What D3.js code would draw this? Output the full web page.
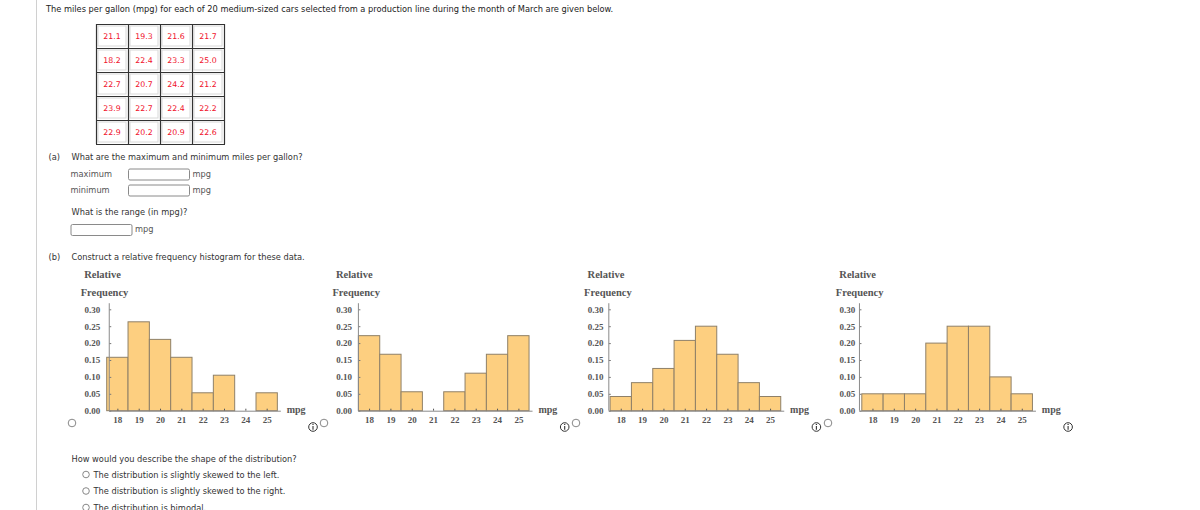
<!DOCTYPE html>
<html>
<head>
<meta charset="utf-8">
<script src="https://cdn.jsdelivr.net/npm/d3@7"></script>
<style>
  body { margin: 0; background: #fff; }
  svg text { font-family: "DejaVu Sans", Verdana, sans-serif; }
  .plot text { font-family: "Liberation Serif", "DejaVu Serif", serif; }
</style>
</head>
<body>
<div id="chart"></div>
<script>
// mpg values shown in the table (5 rows x 4 columns)
const mpgRows = [
  [21.1, 19.3, 21.6, 21.7],
  [18.2, 22.4, 23.3, 25.0],
  [22.7, 20.7, 24.2, 21.2],
  [23.9, 22.7, 22.4, 22.2],
  [22.9, 20.2, 20.9, 22.6]
];

// histogram bins (mpg) and the relative frequencies of the four choices
const bins = [18, 19, 20, 21, 22, 23, 24, 25];
const histA = [0.158, 0.263, 0.211, 0.158, 0.053, 0.105, 0, 0.053];
const histB = [0.222, 0.167, 0.056, 0, 0.056, 0.111, 0.167, 0.222];
const histC = [0.042, 0.083, 0.125, 0.208, 0.25, 0.167, 0.083, 0.042];
const histD = [0.05, 0.05, 0.05, 0.20, 0.25, 0.25, 0.10, 0.05];
const histograms = [histA, histB, histC, histD];

// where each plot's vertical axis crosses the mpg axis
const axisCross = [17.62, 17.5, 17.44, 17.39];

const yTicks = [0, 0.05, 0.10, 0.15, 0.20, 0.25, 0.30];

const introText = "The miles per gallon (mpg) for each of 20 medium-sized cars selected from a production line during the month of March are given below.";
const shapeQuestion = "How would you describe the shape of the distribution?";
const shapeChoices = [
  "The distribution is slightly skewed to the left.",
  "The distribution is slightly skewed to the right.",
  "The distribution is bimodal."
];

const svg = d3.select("#chart").append("svg")
  .attr("width", 1200)
  .attr("height", 510);

svg.append("rect").attr("width", 1200).attr("height", 510).attr("fill", "#fff");

// left page rule
svg.append("line")
  .attr("x1", 36.5).attr("x2", 36.5)
  .attr("y1", 0).attr("y2", 510)
  .attr("stroke", "#d0d0d0");

const textSize = "8.25px";

svg.append("text")
  .attr("x", 46).attr("y", 11.5)
  .attr("font-size", textSize)
  .attr("fill", "#222")
  .text(introText);

// data table
const cellW = 32, cellH = 24, tableX = 96, tableY = 24;
const table = svg.append("g");
mpgRows.forEach((row, r) => {
  row.forEach((v, c) => {
    const x = tableX + c * cellW, y = tableY + r * cellH;
    table.append("rect")
      .attr("x", x + 2).attr("y", y + 2)
      .attr("width", cellW - 4).attr("height", cellH - 4)
      .attr("fill", "#fff")
      .attr("stroke", "#d8d8d8");
    table.append("text")
      .attr("x", x + cellW / 2).attr("y", y + cellH / 2 + 2.8)
      .attr("text-anchor", "middle")
      .attr("font-size", "7.8px")
      .attr("fill", "#f0102a")
      .text(v.toFixed(1));
  });
});
table.append("g").selectAll("line.v")
  .data(d3.range(5))
  .enter().append("line")
  .attr("x1", d => tableX + d * cellW + 0.5).attr("x2", d => tableX + d * cellW + 0.5)
  .attr("y1", tableY).attr("y2", tableY + 5 * cellH)
  .attr("stroke", "#333").attr("stroke-width", 1.2);
table.append("g").selectAll("line.h")
  .data(d3.range(6))
  .enter().append("line")
  .attr("x1", tableX).attr("x2", tableX + 4 * cellW + 1)
  .attr("y1", d => tableY + d * cellH + 0.5).attr("y2", d => tableY + d * cellH + 0.5)
  .attr("stroke", "#333").attr("stroke-width", 1.2);

// part (a)
function label(x, y, txt, color) {
  return svg.append("text")
    .attr("x", x).attr("y", y)
    .attr("font-size", textSize)
    .attr("fill", color || "#333")
    .text(txt);
}
function inputBox(x, y, w, h) {
  svg.append("rect")
    .attr("x", x + 0.5).attr("y", y + 0.5)
    .attr("width", w).attr("height", h)
    .attr("rx", 1.5)
    .attr("fill", "#fff")
    .attr("stroke", "#8a8a8a");
}

label(48.5, 160, "(a)");
label(71.5, 160, "What are the maximum and minimum miles per gallon?");
label(70.5, 176.5, "maximum", "#555");
inputBox(128, 168.5, 61, 11);
label(192.5, 176.5, "mpg", "#555");
label(70.5, 192.5, "minimum", "#555");
inputBox(128, 184.5, 61, 11);
label(192.5, 192.5, "mpg", "#555");
label(71.5, 214.5, "What is the range (in mpg)?");
inputBox(70.5, 224, 61, 11);
label(135, 232, "mpg", "#555");

label(48.5, 260, "(b)");
label(71.5, 260, "Construct a relative frequency histogram for these data.");

// histograms
const y = d3.scaleLinear().domain([0, 0.30]).range([410.7, 309.3]);
const binW = 21.33;

histograms.forEach((hist, i) => {
  const barLeft = 106.7 + 251.7 * i;
  const x = d3.scaleLinear()
    .domain([17.5, 25.5])
    .range([barLeft, barLeft + 8 * binW]);
  const axisX = x(axisCross[i]);

  const g = svg.append("g").attr("class", "plot");

  g.append("text")
    .attr("x", barLeft - 22.5).attr("y", 278)
    .attr("font-size", "10.5px").attr("font-weight", "bold")
    .attr("fill", "#555")
    .text("Relative");
  g.append("text")
    .attr("x", barLeft - 26).attr("y", 295.5)
    .attr("font-size", "10.5px").attr("font-weight", "bold")
    .attr("fill", "#555")
    .text("Frequency");

  // bars
  g.selectAll("rect.bar")
    .data(bins.map((b, k) => ({ bin: b, value: hist[k] })).filter(d => d.value > 0))
    .enter().append("rect")
    .attr("class", "bar")
    .attr("x", d => x(d.bin - 0.5))
    .attr("y", d => y(d.value))
    .attr("width", binW)
    .attr("height", d => y(0) - y(d.value))
    .attr("fill", "#fdcf80")
    .attr("stroke", "#8f8068")
    .attr("stroke-width", 1);

  // y axis
  const yAxis = d3.axisLeft(y)
    .tickValues(yTicks)
    .tickFormat(d3.format(".2f"))
    .tickSize(-2)
    .tickSizeOuter(0)
    .tickPadding(axisX - (barLeft - 6.5));
  const ya = g.append("g")
    .attr("transform", `translate(${axisX},0)`)
    .call(yAxis);
  ya.select(".domain").remove();
  ya.selectAll(".tick line").attr("stroke", "#777");
  ya.selectAll(".tick text")
    .attr("font-size", "9px").attr("font-weight", "bold")
    .attr("fill", "#555")
    .style("font-family", "'Liberation Serif', serif");
  g.append("line")
    .attr("x1", axisX).attr("x2", axisX)
    .attr("y1", y(0.318)).attr("y2", y(0))
    .attr("stroke", "#8a8a8a");

  // x axis
  const xAxis = d3.axisBottom(x)
    .tickValues(bins)
    .tickFormat(d3.format("d"))
    .tickSize(-2)
    .tickSizeOuter(0)
    .tickPadding(6.2);
  const xa = g.append("g")
    .attr("transform", `translate(0,${y(0)})`)
    .call(xAxis);
  xa.select(".domain").remove();
  xa.selectAll(".tick line").attr("stroke", "#555");
  xa.selectAll(".tick text")
    .attr("font-size", "9px").attr("font-weight", "bold")
    .attr("fill", "#555")
    .style("font-family", "'Liberation Serif', serif");
  g.append("line")
    .attr("x1", axisX).attr("x2", x(25.5) + 3.5)
    .attr("y1", y(0) + 0.5).attr("y2", y(0) + 0.5)
    .attr("stroke", "#8a8a8a");

  g.append("text")
    .attr("x", barLeft + 180).attr("y", 413)
    .attr("font-size", "10px").attr("font-weight", "bold")
    .attr("fill", "#555")
    .text("mpg");

  // answer radio and info icon
  svg.append("circle")
    .attr("cx", 72 + 252 * i).attr("cy", 423)
    .attr("r", 3.8)
    .attr("fill", "#fff").attr("stroke", "#888");
  const icon = svg.append("g")
    .attr("transform", `translate(${313 + 251.7 * i},427)`);
  icon.append("circle").attr("r", 4.3).attr("fill", "#fff").attr("stroke", "#333");
  icon.append("line").attr("x1", 0).attr("x2", 0).attr("y1", -1).attr("y2", 2.8)
    .attr("stroke", "#333").attr("stroke-width", 1.1);
  icon.append("circle").attr("cy", -2.6).attr("r", 0.7).attr("fill", "#333");
});

// shape question
label(71.5, 462, shapeQuestion);
shapeChoices.forEach((c, k) => {
  const cy = 474.5 + k * 16.5;
  svg.append("circle")
    .attr("cx", 86).attr("cy", cy)
    .attr("r", 3.3)
    .attr("fill", "#fff").attr("stroke", "#888");
  label(93.5, cy + 3, c);
});
</script>
</body>
</html>
